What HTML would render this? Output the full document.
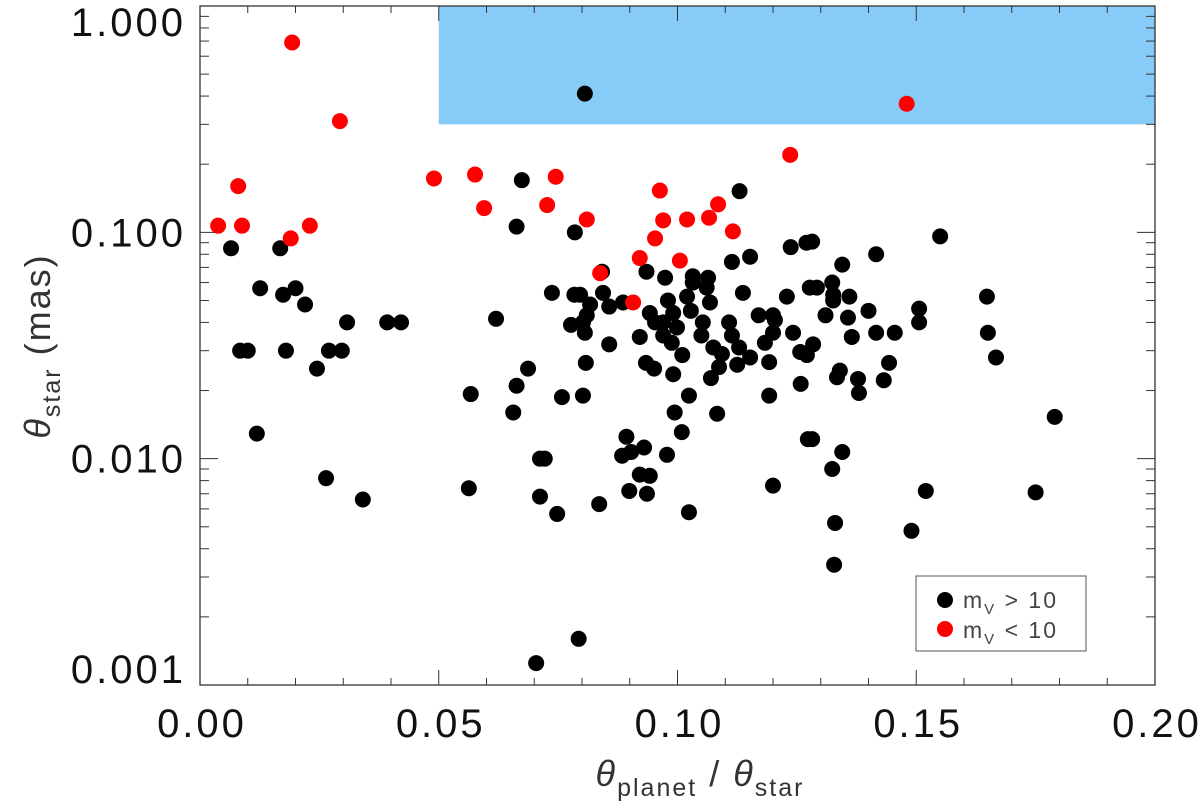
<!DOCTYPE html>
<html><head><meta charset="utf-8">
<style>
html,body{margin:0;padding:0;background:#fff;}
svg{display:block;font-family:"Liberation Sans","DejaVu Sans",sans-serif;}
</style></head>
<body>
<svg id="chart" width="1200" height="809" viewBox="0 0 1200 809" xmlns="http://www.w3.org/2000/svg"></svg>
<script>
const blackX = [0.0065,0.0168,0.0126,0.0174,0.020,0.022,0.0308,0.0392,0.0421,0.0620,0.0084,0.010,0.018,0.027,0.0297,0.0245,0.0119,0.0264,0.0341,0.0674,0.0663,0.0567,0.0656,0.0687,0.0663,0.0563,0.0712,
0.0785,0.113,0.0737,0.0784,0.0796,0.0842,0.0844,0.0817,0.0857,0.0886,0.081,0.0777,0.0802,0.0806,0.0857,0.0808,0.0758,0.0802,0.0722,0.0712,0.0748,0.0836,
0.0935,0.0974,0.1032,0.1064,0.1032,0.1061,0.102,0.098,0.1068,0.1028,0.0991,0.0942,0.0953,0.097,0.0999,0.1053,0.1108,0.117,0.120,0.1204,0.120,0.1242,0.0921,0.097,0.105,0.1114,0.0988,0.1075,0.1129,0.1183,0.101,0.1093,0.1152,0.1257,0.0934,0.0951,0.0991,0.1087,0.1125,0.1192,0.107,0.1258,0.1024,0.1192,0.0994,0.1083,0.1009,0.0893,0.0884,0.0903,0.093,0.0978,0.0921,0.0942,0.0899,0.0936,0.1024,0.12,0.1273,0.1277,0.1237,0.127,0.1114,0.1152,0.1137,0.1229,
0.1282,0.155,0.1416,0.1345,0.1292,0.1324,0.1326,0.1326,0.136,0.140,0.131,0.1357,0.1506,0.1506,0.1648,0.165,0.1667,0.1365,0.1416,0.1455,0.1284,0.1271,0.134,0.1334,0.1378,0.138,0.1443,0.1432,0.179,0.1282,0.1345,0.1324,0.152,0.175,0.133,0.149,0.1328,0.0793,0.0704,0.0806];
const blackY = [0.085,0.085,0.0566,0.053,0.0566,0.048,0.040,0.040,0.040,0.0415,0.030,0.030,0.030,0.030,0.030,0.025,0.0129,0.0082,0.0066,0.17,0.106,0.0193,0.016,0.025,0.021,0.0074,0.01,
0.100,0.152,0.054,0.053,0.053,0.067,0.054,0.048,0.047,0.049,0.043,0.039,0.040,0.036,0.032,0.0265,0.0187,0.019,0.01,0.0068,0.0057,0.0063,
0.067,0.063,0.064,0.063,0.060,0.057,0.052,0.050,0.049,0.045,0.044,0.044,0.040,0.040,0.038,0.040,0.040,0.043,0.043,0.041,0.036,0.036,0.0345,0.035,0.035,0.035,0.0325,0.031,0.031,0.0325,0.0287,0.029,0.028,0.0296,0.0265,0.025,0.0236,0.0254,0.026,0.0267,0.0227,0.0214,0.019,0.019,0.016,0.0158,0.0131,0.0125,0.0103,0.0107,0.0112,0.0104,0.0085,0.0084,0.0072,0.007,0.0058,0.0076,0.0122,0.057,0.086,0.090,0.074,0.078,0.054,0.052,
0.091,0.096,0.080,0.072,0.057,0.060,0.053,0.050,0.052,0.045,0.043,0.042,0.046,0.040,0.052,0.036,0.028,0.0345,0.036,0.036,0.032,0.0287,0.0245,0.0229,0.0225,0.0195,0.0265,0.0222,0.0153,0.0122,0.0107,0.009,0.0072,0.0071,0.0052,0.0048,0.0034,0.0016,0.00125,0.41];
const redX = [0.0193,0.0293,0.008,0.0038,0.0088,0.019,0.023,0.049,0.0576,0.0595,0.0745,0.0727,0.081,0.0963,0.097,0.102,0.0953,0.1085,0.1066,0.1116,0.0921,0.1005,0.0838,0.0907,0.1236,0.148];
const redY = [0.69,0.31,0.16,0.107,0.107,0.094,0.107,0.173,0.18,0.128,0.176,0.132,0.114,0.153,0.113,0.114,0.094,0.133,0.116,0.101,0.077,0.075,0.066,0.049,0.22,0.37];
const xTickLabels = ["0.00","0.05","0.10","0.15","0.20"];
const yTickLabels = ["1.000","0.100","0.010","0.001"];

const NS="http://www.w3.org/2000/svg";
const svg=document.getElementById('chart');
const L=200,R=1155,T=6,B=685;
const xMin=0,xMax=0.2,yLogMin=-3,yLogMax=0;
function xs(v){return L+(v-xMin)/(xMax-xMin)*(R-L);}
function ys(v){return B-(Math.log10(v)-yLogMin)/(yLogMax-yLogMin)*(B-T);}
function mk(tag,attrs){const e=document.createElementNS(NS,tag);for(const k in attrs)e.setAttribute(k,attrs[k]);svg.appendChild(e);return e;}

const reg=mk('rect',{x:xs(0.05),y:T,width:R-xs(0.05),height:ys(0.3)-T,fill:'#87cbf8'});



const fr=mk('rect',{x:L,y:T,width:R-L,height:B-T,fill:'none',stroke:'#333',"stroke-width":1.3});



for(let i=0;i<=20;i++){
  const v=i*0.01, x=xs(v), len=(i%5===0)?15:7;
  const t1=mk('line',{x1:x,x2:x,y1:B,y2:B-len,stroke:'#333',"stroke-width":1});
  
  
  const t2=mk('line',{x1:x,x2:x,y1:T,y2:T+len,stroke:'#333',"stroke-width":1});
  
  
}
xTickLabels.forEach((s,i)=>{
  const t=mk('text',{x:xs(i*0.05)+2,y:737,"text-anchor":"middle","font-size":40,"letter-spacing":3,fill:'#111'});
  t.textContent=s;
  
  
});
for(let d=-3;d<0;d++){
  for(let m=1;m<=10;m++){
    if(m===1 && d>-3) continue;
    const v=m*Math.pow(10,d), y=ys(v), len=(m===1||m===10)?18:9;
    const t1=mk('line',{x1:L,x2:L+len,y1:y,y2:y,stroke:'#333',"stroke-width":1});
    
    
    const t2=mk('line',{x1:R,x2:R-len,y1:y,y2:y,stroke:'#333',"stroke-width":1});
    
    
  }
}
yTickLabels.forEach((s,i)=>{
  let cy=ys(Math.pow(10,-i));
  if(i===0) cy=22;
  if(i===3) cy=669;
  const t=mk('text',{x:186,y:cy+14,"text-anchor":"end","font-size":40,"letter-spacing":3,fill:'#111'});
  t.textContent=s;
  
  
});

blackX.forEach((x,i)=>{
  const c=mk('circle',{cx:xs(x),cy:ys(blackY[i]),r:8,fill:'#000'});
  
  
});
redX.forEach((x,i)=>{
  const c=mk('circle',{cx:xs(x),cy:ys(redY[i]),r:8,fill:'#f00'});
  
  
});
</script>
<svg style="position:absolute;left:0;top:0" width="1200" height="809">
  <g font-family="Liberation Sans, sans-serif">
    <rect x="916" y="576" width="170" height="75" fill="#fff" stroke="#555" stroke-width="1"/>
    <circle cx="945" cy="600" r="8" fill="#000"/>
    <text x="963" y="608" font-size="23" letter-spacing="2" fill="#444">m<tspan font-size="15" dy="6">V</tspan><tspan dy="-6"> &gt;  10</tspan></text>
    <circle cx="945" cy="629" r="8" fill="#f00"/>
    <text x="963" y="638" font-size="23" letter-spacing="2" fill="#444">m<tspan font-size="15" dy="6">V</tspan><tspan dy="-6"> &lt;  10</tspan></text>
  </g>
  <text x="700" y="786" text-anchor="middle" font-size="36" letter-spacing="2" fill="#333" font-family="Liberation Sans, sans-serif"><tspan font-style="italic">θ</tspan><tspan font-size="25" dy="10">planet</tspan><tspan dy="-10"> / </tspan><tspan font-style="italic">θ</tspan><tspan font-size="25" dy="10">star</tspan></text>
  <text transform="translate(50,346) rotate(-90)" text-anchor="middle" font-size="36" letter-spacing="2" fill="#333" font-family="Liberation Sans, sans-serif"><tspan font-style="italic">θ</tspan><tspan font-size="25" dy="10">star</tspan><tspan dy="-10">  (mas)</tspan></text>
</svg>
</body></html>
